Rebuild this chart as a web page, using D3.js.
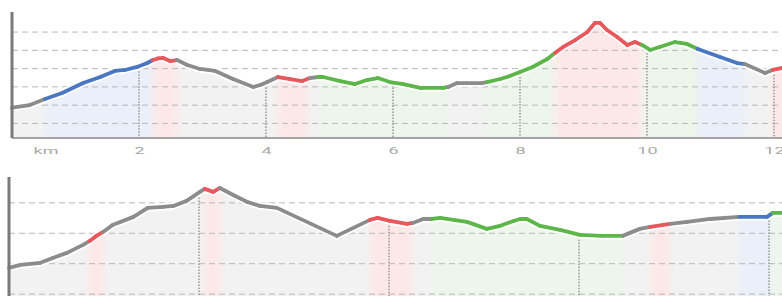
<!DOCTYPE html>
<html><head><meta charset="utf-8">
<script src="https://cdn.jsdelivr.net/npm/d3@7/dist/d3.min.js"></script>
<style>html,body{margin:0;padding:0;background:#fff;overflow:hidden}svg{display:block}</style>
</head><body>
<svg id="c" width="782" height="296"></svg>
<script>
// ---- data: top profile ----
const topKm   = [0.00,0.28,0.52,0.79,1.12,1.39,1.62,1.78,1.97,2.13,2.22,2.30,2.38,2.49,2.60,2.76,2.96,3.20,3.48,3.80,3.91,4.02,4.19,4.38,4.57,4.69,4.82,4.90,5.17,5.40,5.59,5.76,5.95,6.16,6.43,6.79,6.87,7.01,7.17,7.40,7.48,7.69,7.84,8.00,8.20,8.43,8.55,8.68,8.87,9.06,9.18,9.26,9.37,9.53,9.69,9.81,9.92,10.05,10.20,10.44,10.63,10.80,11.15,11.42,11.54,11.86,11.98,12.13];
const topElev = [37.2,40.1,46.7,53.3,64.2,70.8,77.4,78.5,81.8,86.1,89.4,91.1,91.6,88.3,89.4,83.9,79.6,77.4,68.6,59.9,62.1,65.3,70.8,68.6,66.4,69.7,70.8,70.8,66.4,63.1,67.5,69.7,65.3,63.1,58.8,58.8,59.9,64.2,64.2,64.2,65.3,68.6,71.9,76.3,81.8,90.5,97.1,103.7,111.3,120.1,130.0,130.0,122.3,114.6,105.9,109.1,105.9,100.4,103.7,109.1,107.0,101.5,92.7,86.1,85.0,75.2,78.5,80.7];
// grade class of the segment that starts at each point: g gray, b blue, r red, n green
const topGrade = "ggbbbbbbbbrrrrggggggggrrrgnnnnnnnnnnggggnnnnnnrrrrrrrrrrnnnnnbbbggrr".split("");
const topTicks = [2,4,6,8,10,12];
const topTickLabels = ["2","4","6","8","10","12"];
const topGrid  = [20,40,60,80,100,120];
const unitLabel = "km";

// ---- data: bottom profile ----
const botKm   = [0.00,0.12,0.33,0.46,0.61,0.78,0.85,0.92,0.99,1.09,1.31,1.46,1.62,1.73,1.87,2.01,2.06,2.15,2.22,2.36,2.51,2.64,2.82,3.45,3.80,3.88,4.01,4.19,4.25,4.36,4.45,4.54,4.82,5.03,5.17,5.31,5.38,5.45,5.59,5.80,6.01,6.25,6.46,6.64,6.75,6.96,7.14,7.38,7.69,7.98,8.04,8.14];
const botElev = [37.3,39.2,40.6,43.8,47.1,52.4,55.0,58.3,60.9,65.5,70.8,76.7,77.3,78.0,81.3,87.2,89.2,87.2,89.8,85.2,80.6,78.0,76.7,58.3,68.8,70.1,68.1,66.2,66.8,69.4,69.4,70.1,67.5,62.9,64.9,68.1,69.4,69.4,64.9,62.2,58.9,58.3,58.3,62.9,64.2,66.2,67.5,69.4,70.8,70.8,73.4,73.4];
const botGrade = "ggggggrrggggggggrrggggggrrrrggnnnnnnnnnnnnggrgggbbnn".split("");
const botTicks = [2,4,6,8];
const botGrid  = [20,40,60,80];

const lineCol = {g:"#8c8c8c", b:"#4a77c2", r:"#e8575c", n:"#5db64a"};
const bandCol = {g:"#f2f2f2", b:"#eaf0f9", r:"#fde8e8", n:"#edf6eb"};

const W = 782;
const svg = d3.select("#c");
const defs = svg.append("defs");

function panel(cfg){
  const {km, elev, grade, ticks, tickLabels, grid, x0, kmPx, yTop, yBot, dom, id} = cfg;
  const x = d3.scaleLinear().domain([0,1]).range([x0, x0+kmPx]);
  const y = d3.scaleLinear().domain(dom).range([yBot, yTop]);
  const pts = km.map((k,i)=>({k, e:elev[i], g:grade[i]}));
  const g = svg.append("g");

  const grad = defs.append("linearGradient").attr("id","gr"+id)
    .attr("gradientUnits","userSpaceOnUse").attr("x1",0).attr("x2",W).attr("y1",0).attr("y2",0);
  const runs = [];
  for (let i=0;i<pts.length-1;i++){
    const c = pts[i].g;
    if (runs.length && runs[runs.length-1].c===c) runs[runs.length-1].b = x(pts[i+1].k);
    else runs.push({c, a:x(pts[i].k), b:x(pts[i+1].k)});
  }
  runs.forEach(r=>{
    const bl = Math.min(6,(r.b-r.a)/3);
    grad.append("stop").attr("offset",Math.max(0,(r.a+bl)/W)).attr("stop-color",bandCol[r.c]);
    grad.append("stop").attr("offset",Math.min(1,(r.b-bl)/W)).attr("stop-color",bandCol[r.c]);
  });

  const area = d3.area().x(d=>x(d.k)).y0(yBot).y1(d=>y(d.e));
  g.append("path").datum(pts).attr("d",area).attr("fill",`url(#gr${id})`);

  g.selectAll(".gl").data(grid).join("line")
    .attr("x1",x0).attr("x2",W).attr("y1",d=>y(d)).attr("y2",d=>y(d))
    .attr("stroke","#b8b8b8").attr("stroke-width",1).attr("stroke-dasharray","6,4");

  const interp = k => {
    const i = d3.bisector(d=>d.k).left(pts,k);
    if (i<=0) return pts[0].e;
    if (i>=pts.length) return pts[pts.length-1].e;
    const a=pts[i-1], b=pts[i]; const t=(k-a.k)/(b.k-a.k);
    return a.e+(b.e-a.e)*t;
  };
  g.selectAll(".vm").data(ticks).join("line")
    .attr("x1",d=>x(d)).attr("x2",d=>x(d))
    .attr("y1",d=>y(interp(d))+5).attr("y2",yBot)
    .attr("stroke","#888").attr("stroke-width",1.3).attr("stroke-dasharray","1.5,1.5");

  const line = d3.line().x(d=>x(d.k)).y(d=>y(d.e));
  g.append("path").datum(pts).attr("d",line).attr("fill","none")
    .attr("stroke","#fff").attr("stroke-width",7.5).attr("stroke-linejoin","round");
  for (let i=0;i<pts.length-1;i++){
    g.append("path").datum([pts[i],pts[i+1]]).attr("d",line).attr("fill","none")
      .attr("stroke",lineCol[pts[i].g]).attr("stroke-width",3.8).attr("stroke-linecap","round");
  }

  g.append("line").attr("x1",x0).attr("x2",x0).attr("y1",yTop).attr("y2",yBot)
    .attr("stroke","#7a7a7a").attr("stroke-width",3);
  g.append("line").attr("x1",x0).attr("x2",W).attr("y1",yBot).attr("y2",yBot)
    .attr("stroke","#8a8a8a").attr("stroke-width",1.5);

  if (tickLabels){
    const ax = g.append("g").attr("transform",`translate(0,${yBot})`)
      .call(d3.axisBottom(x).tickValues(ticks).tickSize(0).tickFormat((d,i)=>tickLabels[i]));
    ax.select(".domain").remove();
    ax.selectAll(".tick text")
      .attr("y",0).attr("dy",0)
      .attr("transform","translate(0,16) scale(1.9,1)")
      .attr("fill","#a8a8a8").attr("font-size",9.5).attr("font-family","Roboto, sans-serif");
    g.append("text").attr("transform",`translate(${x0+34},${yBot+16}) scale(1.9,1)`)
      .attr("text-anchor","middle")
      .attr("fill","#a8a8a8").attr("font-size",9.5).attr("font-family","Roboto, sans-serif").text(unitLabel);
  }
}

panel({km:topKm, elev:topElev, grade:topGrade, ticks:topTicks, tickLabels:topTickLabels, grid:topGrid,
  x0:12, kmPx:63.5, yTop:12, yBot:138, dom:[4,142], id:"t"});
panel({km:botKm, elev:botElev, grade:botGrade, ticks:botTicks, tickLabels:null, grid:botGrid,
  x0:9, kmPx:95, yTop:177, yBot:320, dom:[3,97], id:"b"});
</script>
</body></html>
